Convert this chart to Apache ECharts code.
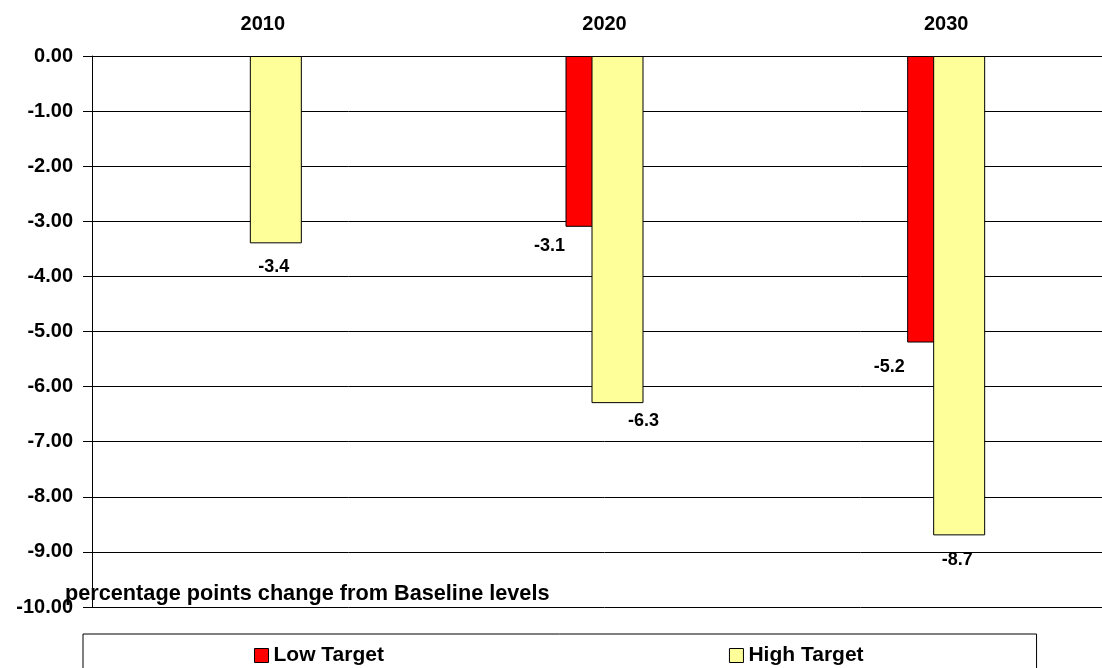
<!DOCTYPE html>
<html lang="en">
<head>
    <meta charset="UTF-8">
    <title>Target change</title>
    <style>
        html, body{ margin: 0; background: #fff; overflow: hidden; }
        #chart{ width: 1117px; height: 668px; }
    </style>
</head>
<body>
<div id="chart"></div>
<script src="https://cdn.jsdelivr.net/npm/echarts@6/dist/echarts.min.js"></script>
<script>
    // data
    var years = ['2010', '2020', '2030'];
    var lowTarget = [null, -3.1, -5.2];
    var highTarget = [-3.4, -6.3, -8.7];

    // hand placed label nudges (like the original sheet)
    var lowNudge = [[0, 0], [-42, 10], [-44, 16]];
    var highNudge = [[-2, 15], [26, 9], [-2, 16]];

    var font = 'Liberation Sans';

    function withLabels(values, nudge) {
        return values.map(function (v, i) {
            if (v === null) return null;
            return { value: v, label: { offset: nudge[i] } };
        });
    }

    var myChart = echarts.init(document.getElementById('chart'));
    var option = {
        animation: false,
        textStyle: { fontFamily: font },
        title: {
            text: 'percentage points change from Baseline levels',
            left: 65,
            top: 583,
            padding: 0,
            textStyle: { fontFamily: font, fontSize: 21.7, fontWeight: 'bold', color: '#000' }
        },
        legend: {
            data: ['Low Target', 'High Target'],
            left: 83,
            top: 634,
            orient: 'horizontal',
            icon: 'rect',
            padding: [11, 173, 20, 171],
            itemGap: 345,
            itemWidth: 14,
            itemHeight: 14,
            itemStyle: { borderColor: '#000', borderWidth: 1 },
            borderColor: '#000',
            borderWidth: 1,
            textStyle: { fontFamily: font, fontSize: 21, fontWeight: 'bold', color: '#000' }
        },
        grid: { left: 92, top: 56, right: 0, bottom: 61, containLabel: false },
        xAxis: {
            type: 'category',
            data: years,
            position: 'top',
            axisLine: { lineStyle: { color: '#000', width: 1 } },
            axisTick: { inside: true, length: 5, lineStyle: { color: '#000' } },
            axisLabel: { margin: 22, fontSize: 20, fontWeight: 'bold', color: '#000', fontFamily: font }
        },
        yAxis: {
            type: 'value',
            min: -10,
            max: 0,
            interval: 1,
            axisLine: { show: true, lineStyle: { color: '#000' } },
            axisTick: { show: true, length: 9, lineStyle: { color: '#000' } },
            splitLine: { lineStyle: { color: '#000', width: 1 } },
            axisLabel: {
                margin: 19,
                fontSize: 20,
                fontWeight: 'bold',
                color: '#000',
                fontFamily: font,
                formatter: function (v) { return v.toFixed(2); }
            }
        },
        series: [
            {
                name: 'Low Target',
                type: 'bar',
                data: withLabels(lowTarget, lowNudge),
                barWidth: 52,
                barGap: '-50%',
                itemStyle: { color: '#FF0000', borderColor: '#000', borderWidth: 1 },
                label: {
                    show: true, position: 'bottom', distance: 0,
                    fontSize: 18, fontWeight: 'bold', color: '#000', fontFamily: font,
                    formatter: function (p) { return p.value.toFixed(1); }
                }
            },
            {
                name: 'High Target',
                type: 'bar',
                data: withLabels(highTarget, highNudge),
                barWidth: 52,
                itemStyle: { color: '#FFFF99', borderColor: '#000', borderWidth: 1 },
                label: {
                    show: true, position: 'bottom', distance: 0,
                    fontSize: 18, fontWeight: 'bold', color: '#000', fontFamily: font,
                    formatter: function (p) { return p.value.toFixed(1); }
                }
            }
        ]
    };
    myChart.setOption(option);
</script>
</body>
</html>
